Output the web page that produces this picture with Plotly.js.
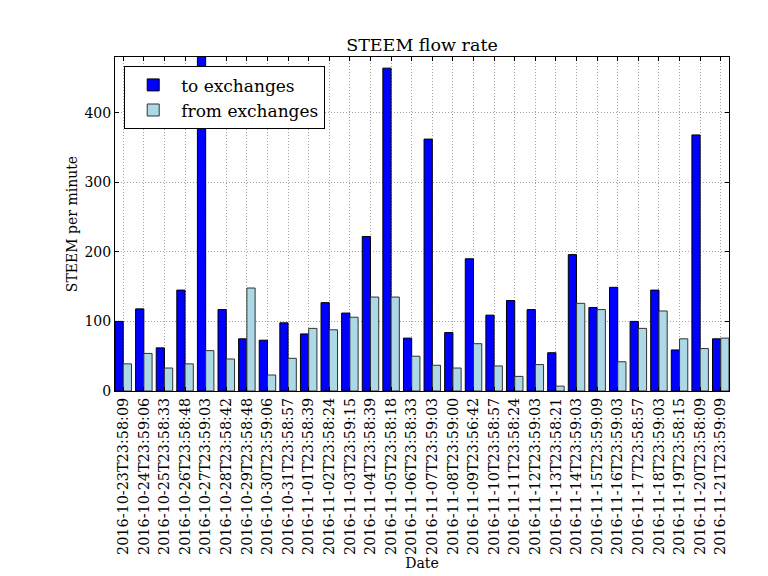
<!DOCTYPE html>
<html>
<head>
<meta charset="utf-8">
<script src="https://cdn.plot.ly/plotly-3.0.1.min.js"></script>
<style>
  html, body { margin: 0; padding: 0; background: #fff; }
  #chart { width: 768px; height: 576px; }
</style>
</head>
<body>
<div id="chart"></div>
<script>
let dates = [
  "2016-10-23T23:58:09", "2016-10-24T23:59:06", "2016-10-25T23:58:33", "2016-10-26T23:58:48",
  "2016-10-27T23:59:03", "2016-10-28T23:58:42", "2016-10-29T23:58:48", "2016-10-30T23:59:06",
  "2016-10-31T23:58:57", "2016-11-01T23:58:39", "2016-11-02T23:58:24", "2016-11-03T23:59:15",
  "2016-11-04T23:58:39", "2016-11-05T23:58:18", "2016-11-06T23:58:33", "2016-11-07T23:59:03",
  "2016-11-08T23:59:00", "2016-11-09T23:56:42", "2016-11-10T23:58:57", "2016-11-11T23:58:24",
  "2016-11-12T23:59:03", "2016-11-13T23:58:21", "2016-11-14T23:59:03", "2016-11-15T23:59:09",
  "2016-11-16T23:59:03", "2016-11-17T23:58:57", "2016-11-18T23:59:03", "2016-11-19T23:58:15",
  "2016-11-20T23:58:09", "2016-11-21T23:59:09"
];
let toExchanges = [
  100, 118, 62, 145, 530, 117, 75, 73, 98, 82,
  127, 112, 222, 464, 76, 362, 84, 190, 109, 130,
  117, 55, 196, 120, 149, 100, 145, 59, 368, 75
];
let fromExchanges = [
  39, 54, 33, 39, 58, 46, 148, 23, 47, 90,
  88, 106, 135, 135, 50, 37, 33, 68, 36, 21,
  38, 7, 126, 117, 42, 90, 115, 75, 61, 76
];

let serif = "DejaVu Serif, serif";
let data = [
  {type: "bar", x: dates, y: toExchanges, name: "to exchanges",
   marker: {color: "#0000ff", line: {color: "#000000", width: 1}}},
  {type: "bar", x: dates, y: fromExchanges, name: "from exchanges",
   marker: {color: "#add8e6", line: {color: "#333333", width: 1}}}
];
let layout = {
  width: 768, height: 576,
  margin: {l: 115, r: 39, t: 57, b: 185},
  paper_bgcolor: "#fff", plot_bgcolor: "#fff",
  font: {family: serif, size: 14, color: "#000"},
  title: {text: "STEEM flow rate", font: {family: serif, size: 17.5},
          x: 0.5, xanchor: "center", xref: "paper",
          y: 1, yanchor: "bottom", yref: "paper", pad: {b: 6}},
  barmode: "group", bargap: 0.2, bargroupgap: 0,
  showlegend: true,
  legend: {x: 0.015, y: 0.972, xanchor: "left", yanchor: "top",
           bordercolor: "#000", borderwidth: 1, bgcolor: "#fff",
           font: {family: serif, size: 17}, tracegroupgap: 0, itemwidth: 46},
  xaxis: {
    type: "category", range: [-0.4, 29.4],
    tickangle: -90, tickfont: {family: serif, size: 14.4},
    ticks: "inside", ticklen: 4, tickcolor: "#000",
    showgrid: true, gridcolor: "#a0a0a0", griddash: "1px,2px", gridwidth: 1,
    showline: true, linecolor: "#000", linewidth: 1, mirror: "ticks",
    title: {text: "Date", font: {family: serif, size: 14}, standoff: 4}
  },
  yaxis: {
    range: [0, 480], dtick: 100, tickfont: {family: serif, size: 14},
    ticks: "inside", ticklen: 4, tickcolor: "#000",
    showgrid: true, gridcolor: "#a0a0a0", griddash: "1px,2px", gridwidth: 1,
    zeroline: false,
    showline: true, linecolor: "#000", linewidth: 1, mirror: "ticks",
    title: {text: "STEEM per minute", font: {family: serif, size: 14}, standoff: 3}
  }
};
Plotly.newPlot("chart", data, layout, {displayModeBar: false, staticPlot: true});
</script>
</body>
</html>
